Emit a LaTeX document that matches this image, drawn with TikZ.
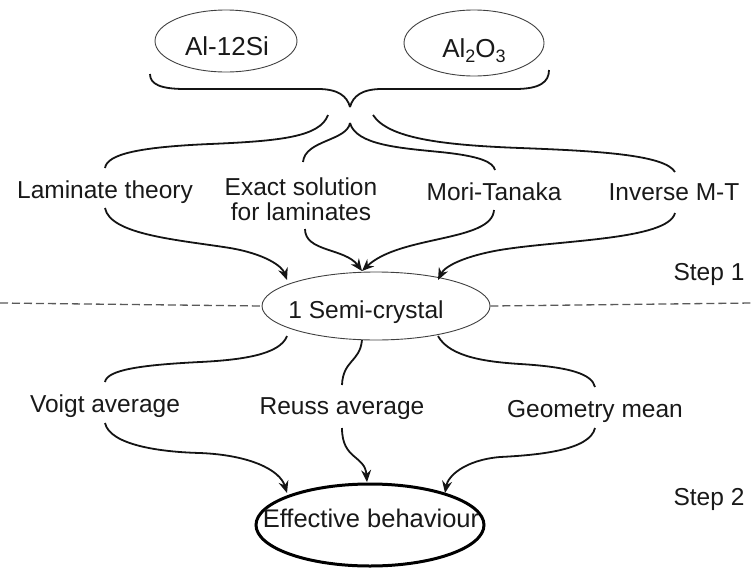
\documentclass[tikz,border=0pt]{standalone}
\usepackage{fontspec}
\setmainfont{Liberation Sans}
\usetikzlibrary{arrows.meta,shapes.geometric}
\newcommand{\lowsub}[1]{\raisebox{-0.4ex}{\fontsize{18}{18}\selectfont #1}}
\begin{document}
\begin{tikzpicture}[x=1pt,y=-1pt,
  lbl/.style={inner sep=0pt, anchor=base, text=black!90,
    font=\fontsize{24.5}{26}\selectfont},
  thinell/.style={draw=black!75, line width=0.9pt, ellipse},
  curve/.style={draw=black!92, line width=1.8pt},
  arr/.style={curve, -{Stealth[length=12pt,width=10pt,inset=4pt]}},
  dashline/.style={draw=black!65, line width=1.3pt, dash pattern=on 8pt off 4pt}
]
\useasboundingbox (0,0) rectangle (752,568);

% top ellipses
\node[thinell, minimum width=142pt, minimum height=62pt, inner sep=0pt] (e1) at (226,41) {};
\node[thinell, minimum width=140pt, minimum height=66pt, inner sep=0pt] (e2) at (474,43) {};
\node[lbl, font=\fontsize{26}{28}\selectfont] (alsi) at (227,55) {Al-12Si};
\node[lbl, font=\fontsize{26}{28}\selectfont] (alo) at (474,57) {Al\lowsub{2}O\lowsub{3}};

% named coordinates
\coordinate (bl) at (150,74);
\coordinate (br) at (549,70);
\coordinate (btip) at (350,107);
\coordinate (ctip) at (350,123);
\coordinate (oll) at (328,115);
\coordinate (orr) at (373,115);

% upper brace
\draw[curve] (bl) .. controls (150,84) and (160,89) .. (185,89) -- (318,89)
  .. controls (338,89) and (347,96) .. (btip);
\draw[curve] (btip) .. controls (353,96) and (362,89) .. (382,89) -- (515,89)
  .. controls (540,89) and (549,82) .. (br);

% labels row 1
\node[lbl] (lam) at (105,198) {Laminate theory};
\node[lbl] (ex1) at (301,195) {Exact solution};
\node[lbl] (ex2) at (301,220) {for laminates};
\node[lbl] (mt) at (494,200) {Mori-Tanaka};
\node[lbl] (imt) at (674,200) {Inverse M-T};
\node[lbl] (s1) at (709,280) {Step 1};

\coordinate (lamT) at (105,168);
\coordinate (exT) at (303,162);
\coordinate (mtT) at (495,170);
\coordinate (imtT) at (675,172);

% lower brace arms
\draw[curve] (oll) .. controls (320,137) and (280,141) .. (210,144)
  .. controls (140,147) and (107,154) .. (lamT);
\draw[curve] (ctip) .. controls (347,141) and (305,140) .. (exT);
\draw[curve] (ctip) .. controls (356,145) and (400,148) .. (440,152)
  .. controls (480,156) and (493,162) .. (mtT);
\draw[curve] (orr) .. controls (388,138) and (440,145) .. (520,148)
  .. controls (600,151) and (665,155) .. (imtT);

% semi-crystal
\node[thinell, minimum width=228pt, minimum height=68pt, inner sep=0pt] (semi) at (376,306) {};
\node[lbl] (semit) at (366,318) {1 Semi-crystal};

\draw[dashline] (0,303) -- (semi.west);
\draw[dashline] (semi.east) -- (752,303);

\coordinate (lamB) at (105,208);
\coordinate (exB) at (305,229);
\coordinate (mtB) at (494,210);
\coordinate (imtB) at (675,213);
\coordinate (tipL) at (287,280);
\coordinate (tipC) at (362,271);
\coordinate (tipR) at (438,280);

\draw[arr] (lamB) .. controls (110,235) and (180,240) .. (230,248)
  .. controls (265,254) and (282,266) .. (tipL);
\draw[arr] (exB) .. controls (305,252) and (345,248) .. (tipC);
\draw[arr] (mtB) .. controls (492,242) and (400,235) .. (tipC);
\draw[arr] (imtB) .. controls (668,240) and (560,240) .. (500,250)
  .. controls (465,256) and (445,266) .. (tipR);

% row 2 labels
\node[lbl] (voigt) at (105,412) {Voigt average};
\node[lbl] (reuss) at (342,414) {Reuss average};
\node[lbl] (geo) at (595,417) {Geometry mean};
\node[lbl] (s2) at (709,505) {Step 2};

\coordinate (sL) at (287,336);
\coordinate (sC) at (362,340);
\coordinate (sR) at (438,336);
\coordinate (vT) at (105,382);
\coordinate (rT) at (342,385);
\coordinate (gT) at (595,387);

\draw[curve] (sL) .. controls (280,355) and (240,360) .. (200,362)
  .. controls (140,365) and (107,370) .. (vT);
\draw[curve] (sC) .. controls (360,362) and (343,360) .. (rT);
\draw[curve] (sR) .. controls (450,358) and (490,362) .. (520,364)
  .. controls (570,367) and (592,374) .. (gT);

% effective
\node[draw=black, line width=3pt, ellipse, minimum width=228pt, minimum height=82pt, inner sep=0pt] (eff) at (370,525) {};
\node[lbl, font=\fontsize{25.5}{27}\selectfont] (efft) at (371,527) {Effective behaviour};

\coordinate (vB) at (105,423);
\coordinate (rB) at (342,428);
\coordinate (gB) at (595,428);
\coordinate (eL) at (287,493);
\coordinate (eC) at (367,482);
\coordinate (eR) at (445,493);

\draw[arr] (vB) .. controls (110,445) and (160,452) .. (200,453)
  .. controls (250,455) and (280,470) .. (eL);
\draw[arr] (rB) .. controls (342,460) and (365,455) .. (eC);
\draw[arr] (gB) .. controls (590,450) and (540,455) .. (500,457)
  .. controls (465,460) and (448,476) .. (eR);
\end{tikzpicture}
\end{document}
